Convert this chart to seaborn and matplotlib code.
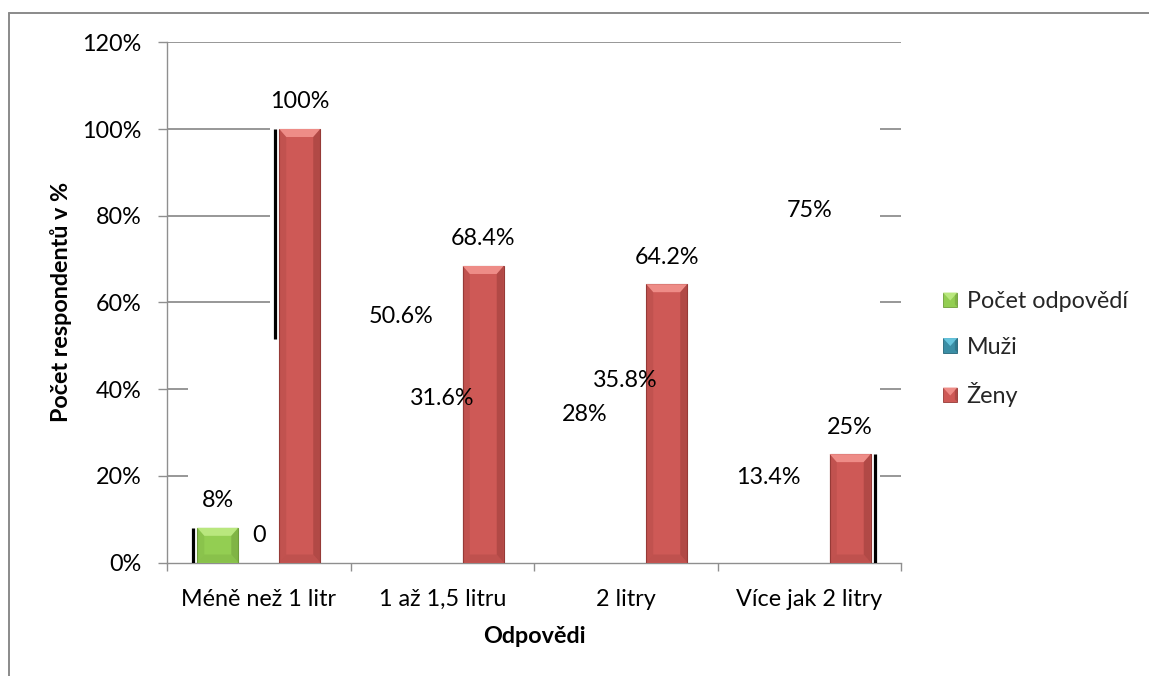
import numpy as np
import pandas as pd
import matplotlib
matplotlib.use("Agg")
import matplotlib.pyplot as plt
import seaborn as sns
from matplotlib.patches import Polygon, Rectangle
from matplotlib.lines import Line2D
from matplotlib.legend_handler import HandlerBase

# ---- data -------------------------------------------------------------
categories = ["Méně než 1 litr", "1 až 1,5 litru", "2 litry", "Více jak 2 litry"]
series = ["Počet odpovědí", "Muži", "Ženy"]
pocet = [8.0, 50.6, 28.0, 13.4]
muzi = [0.0, 31.6, 35.8, 75.0]
zeny = [100.0, 68.4, 64.2, 25.0]
# bars drawn with a fill; the rest only carry their value label
pocet_filled = [True, False, False, False]
muzi_filled = [False, False, False, False]
zeny_filled = [True, True, True, True]
yticks = [0, 20, 40, 60, 80, 100, 120]
# black guide lines: (category index, series, side of bar, low, high)
guides = [(0, "Počet odpovědí", "left", -0.3, 8.0),
          (0, "Ženy", "left", 51.6, 100.0),
          (3, "Ženy", "right", -0.6, 25.0)]

# ---- style ------------------------------------------------------------
# base, highlight, shadow
shades = {
    "Počet odpovědí": ("#93CE52", "#B9E77E", "#6E9C3A"),
    "Muži": ("#3B8EA5", "#66C4DC", "#246478"),
    "Ženy": ("#CE5956", "#EE8C87", "#963A37"),
}
GRID = "#8F8F8F"
FS = 16.8

sns.set_theme(style="white")
plt.rcParams["font.family"] = ["Lato", "DejaVu Sans"]

fig = plt.figure(figsize=(11.49, 6.76), dpi=100)
W, H = 1149, 676
ax = fig.add_axes([167 / W, 1 - 562.5 / H, 734 / W, 520.2 / H])

df = pd.DataFrame({
    "Odpověď": categories * 3,
    "Série": np.repeat(series, len(categories)),
    "Hodnota": pocet + muzi + zeny,
})
sns.barplot(data=df, x="Odpověď", y="Hodnota", hue="Série",
            order=categories, hue_order=series,
            palette=[shades[s][0] for s in series], saturation=1,
            width=0.67, gap=0, errorbar=None, legend=False, ax=ax)

ax.set_xlim(-0.5, len(categories) - 0.5)
ax.set_ylim(0, 120)


def px(dx, dy):
    inv = ax.transData.inverted()
    a = inv.transform((0, 0))
    b = inv.transform((dx, dy))
    return b[0] - a[0], b[1] - a[1]


filled = {"Počet odpovědí": pocet_filled, "Muži": muzi_filled, "Ženy": zeny_filled}
dx, dy = px(7, 8)

for s, cont in zip(series, ax.containers):
    base, light, dark = shades[s]
    for j, p in enumerate(cont.patches):
        x0, w, h = p.get_x(), p.get_width(), p.get_height()
        if not filled[s][j]:
            p.set_facecolor("none")
            p.set_edgecolor("none")
        else:
            p.set_edgecolor(dark)
            p.set_linewidth(0.8)
            p.set_zorder(3)
            d_x = min(dx, w / 2)
            d_y = min(dy, h / 2)
            polys = [
                ([(x0, h), (x0 + w, h), (x0 + w - d_x, h - d_y), (x0 + d_x, h - d_y)], light, 1.0),
                ([(x0, 0), (x0 + w, 0), (x0 + w - d_x, d_y), (x0 + d_x, d_y)], dark, 0.25),
                ([(x0 + w, 0), (x0 + w, h), (x0 + w - d_x, h - d_y), (x0 + w - d_x, d_y)], dark, 0.5),
                ([(x0, 0), (x0, h), (x0 + d_x, h - d_y), (x0 + d_x, d_y)], dark, 0.22),
            ]
            for verts, col, a in polys:
                ax.add_patch(Polygon(verts, closed=True, facecolor=col, edgecolor="none",
                                     alpha=a, zorder=4))
        label = "0" if h == 0 else f"{h:g}%"
        ax.annotate(label, (x0 + w / 2, h), xytext=(0, 19.5), textcoords="offset points",
                    ha="center", va="center", fontsize=FS, color="black", zorder=6)

# guide lines beside bars
gx, _ = px(4, 0)
for cat, s, side, lo, hi in guides:
    p = ax.containers[series.index(s)].patches[cat]
    x = p.get_x() - gx if side == "left" else p.get_x() + p.get_width() + gx
    ax.vlines(x, lo, hi, color="black", linewidth=2.3, zorder=5)

# horizontal gridlines (drawn in segments)
grid_segments = {
    120: [(0.0, 1.0)],
    100: [(0.0, 0.1403), (0.9714, 1.0)],
    80: [(0.0, 0.1403), (0.9714, 1.0)],
    60: [(0.0, 0.1403), (0.9714, 1.0)],
    40: [(0.0, 0.0286), (0.9714, 1.0)],
    20: [(0.0, 0.0286), (0.9714, 1.0)],
}
ytrans = ax.get_yaxis_transform()
for yv, segs in grid_segments.items():
    for a, b in segs:
        ax.plot([a, b], [yv, yv], color=GRID, linewidth=1.3, transform=ytrans,
                zorder=1, solid_capstyle="butt")

# axes, ticks
for side in ("top", "right"):
    ax.spines[side].set_visible(False)
for side in ("left", "bottom"):
    ax.spines[side].set_color(GRID)
    ax.spines[side].set_linewidth(1.0)

ax.set_yticks(yticks)
ax.set_yticklabels([f"{v}%" for v in yticks])
ax.tick_params(axis="y", left=True, length=6.5, width=1.0, color=GRID, pad=12,
               labelsize=FS, labelcolor="black")

ax.set_xticks(np.arange(-0.5, len(categories)))
ax.set_xticklabels([])
ax.set_xticks(np.arange(len(categories)), minor=True)
ax.set_xticklabels(categories, minor=True)
ax.tick_params(axis="x", which="major", bottom=True, length=6, width=1.0, color=GRID)
ax.tick_params(axis="x", which="minor", bottom=True, length=0, pad=19,
               labelsize=FS, labelcolor="black")

ax.set_ylabel("Počet respondentů v %", fontsize=FS, fontweight="bold", color="black",
              va="center")
ax.yaxis.set_label_coords(-0.1444, 0.5)
ax.set_xlabel("Odpovědi", fontsize=FS, fontweight="bold", color="black", va="center")
ax.xaxis.set_label_coords(0.5, -0.1432)


# legend with bevelled square keys
class BevelKey(HandlerBase):
    def __init__(self, cols):
        super().__init__()
        self.cols = cols

    def create_artists(self, legend, orig_handle, xdescent, ydescent, width, height,
                       fontsize, trans):
        base, light, dark = self.cols
        x0, y0 = -xdescent, -ydescent
        s = min(width, height)
        y0 = y0 + (height - s) / 2
        arts = [
            Rectangle((x0, y0), s, s, facecolor=base, edgecolor=dark, linewidth=0.6,
                      transform=trans),
            Polygon([(x0, y0 + s), (x0 + s, y0 + s), (x0 + s / 2, y0 + s * 0.45)],
                    facecolor=light, edgecolor="none", transform=trans),
            Polygon([(x0 + s, y0), (x0 + s, y0 + s), (x0 + s * 0.82, y0 + s * 0.82),
                     (x0 + s * 0.82, y0 + s * 0.18)],
                    facecolor=dark, edgecolor="none", alpha=0.5, transform=trans),
        ]
        return arts


handles = [Rectangle((0, 0), 1, 1, facecolor=shades[s][0]) for s in series]
fig.legend(handles, series, loc="center left", bbox_to_anchor=(943 / W, 1 - 349 / H),
           frameon=False, fontsize=FS, handlelength=0.62, handleheight=0.62,
           handletextpad=0.4, labelspacing=1.05, borderpad=0, borderaxespad=0,
           handler_map={h: BevelKey(shades[s]) for h, s in zip(handles, series)})

# outer chart frame
fig.add_artist(Line2D([9 / W, 9 / W], [0, 1 - 13 / H], transform=fig.transFigure,
                      color="#8A8A8A", linewidth=1.4))
fig.add_artist(Line2D([9 / W, 1], [1 - 13 / H, 1 - 13 / H], transform=fig.transFigure,
                      color="#8A8A8A", linewidth=1.4))

fig.savefig("out.png", dpi=100, facecolor="white")
